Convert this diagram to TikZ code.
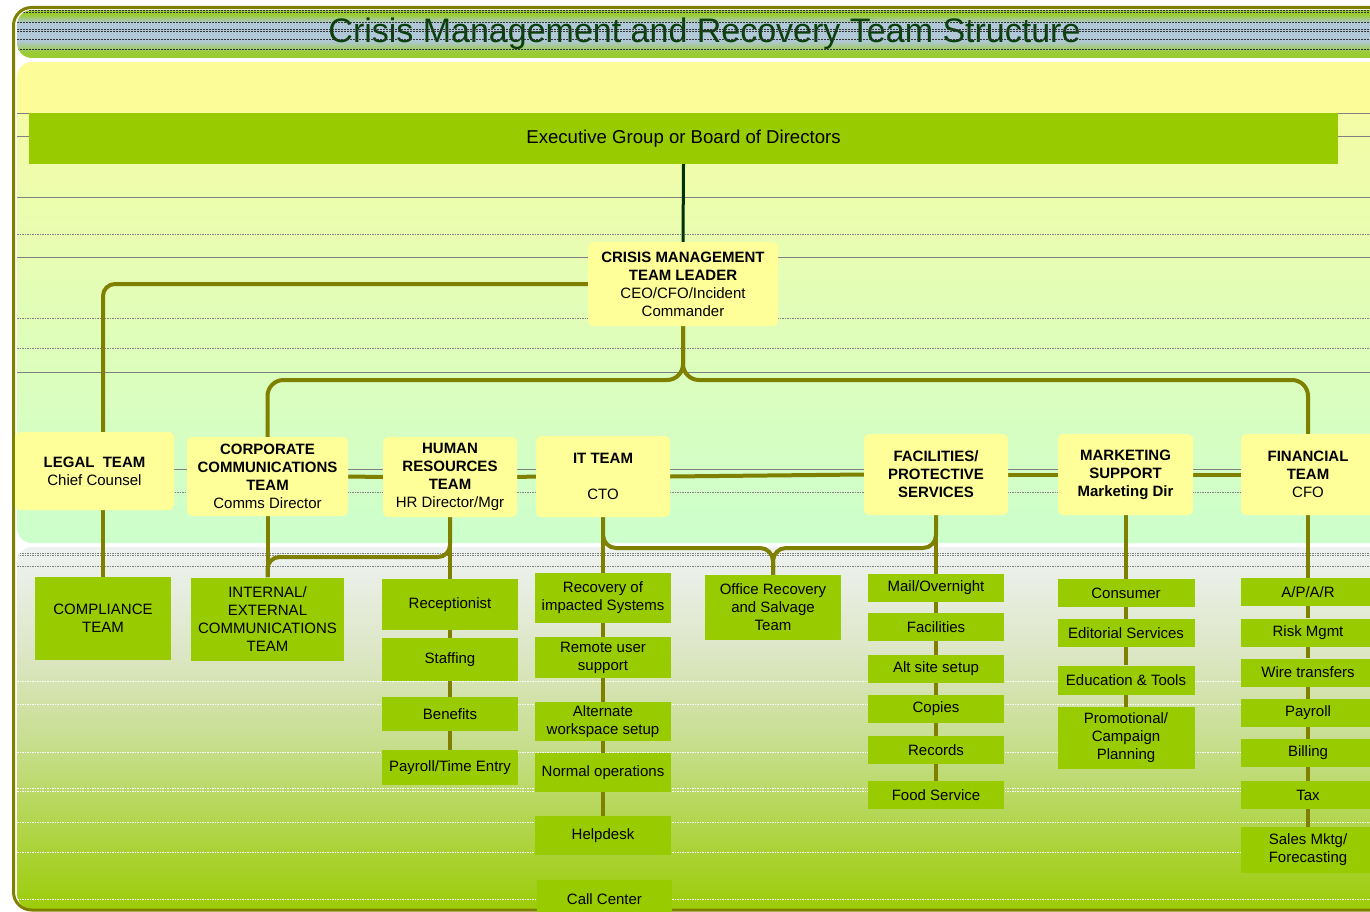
\documentclass[tikz,border=0pt]{standalone}
\usepackage{fontspec}
\setmainfont{Liberation Sans}
\usetikzlibrary{calc}
\definecolor{boxY}{HTML}{FFFF99}
\definecolor{boxG}{HTML}{99CC00}
\definecolor{olv}{HTML}{808000}
\definecolor{dkg}{HTML}{003300}
\definecolor{ttl}{HTML}{0A400A}
\definecolor{bandG}{HTML}{99CC33}
\definecolor{bandB}{HTML}{B0C8D8}
\definecolor{upY}{HTML}{FCFC99}
\definecolor{upT}{HTML}{F4FCA6}
\definecolor{upB}{HTML}{CCFFCC}
\definecolor{lwT}{HTML}{EEF2F2}
\definecolor{lwC}{HTML}{DCE6C4}
\definecolor{lwD}{HTML}{C6DE8C}
\definecolor{lwB}{HTML}{9CCC08}
\pgfdeclareverticalshading{lowershade}{100bp}{color(0bp)=(lwB); color(25bp)=(lwB); color(47.5bp)=(lwD); color(60bp)=(lwC); color(75bp)=(lwT); color(100bp)=(lwT)}
\pgfdeclareverticalshading{bandshade}{100bp}{color(0bp)=(bandG); color(25bp)=(bandG); color(31bp)=(bandG); color(43bp)=(bandB); color(62bp)=(bandB); color(70bp)=(bandG); color(75bp)=(bandG); color(100bp)=(bandG)}
\pgfdeclarelayer{panel}
\pgfdeclarelayer{links}
\pgfsetlayers{panel,links,main}
\tikzset{
  txt/.style={font=\fontsize{15}{18}\selectfont},
  ybox/.style={txt, fill=boxY, rounded corners=5pt, align=center, inner sep=0pt},
  gbox/.style={txt, fill=boxG, align=center, inner sep=0pt},
  conn/.style={draw=olv, line width=4pt},
  gridl/.style={draw=gray, line width=0.8pt},
  gridd/.style={draw=gray, line width=0.8pt, dash pattern=on 1.5pt off 1pt},
  wgrid/.style={draw=white, line width=0.8pt, dash pattern=on 1.5pt off 1pt},
  tline/.style={draw=black!80, line width=0.4pt, dash pattern=on 2pt off 1pt},
}
\begin{document}
\begin{tikzpicture}[x=1pt,y=-1pt]
\useasboundingbox (0,0) rectangle (1370,912);
\clip (0,0) rectangle (1370,912);
\begin{pgfonlayer}{panel}
  % title band
  \begin{scope}
    \clip[rounded corners=15pt] (17,10) rectangle (1400,58);
    \shade[shading=bandshade] (17,10) rectangle (1400,58);
    \node[font=\fontsize{34}{40}\selectfont, text=ttl, anchor=base, inner sep=0pt] (title) at (704.5,43) {Crisis Management and Recovery Team Structure};
    \foreach \yy in {10.5,12.5,22.3,29.3,31.5,39.3,49.3}
      \draw[tline] (17,\yy) -- (1400,\yy);
  \end{scope}
  % upper panel
  \begin{scope}
    \clip[rounded corners=15pt] (17,62) rectangle (1400,543);
    \shade[top color=upT, bottom color=upB] (17,113) rectangle (1400,543);
    \fill[upY] (17,62) rectangle (1400,113);
    \foreach \yy in {113,136,197,257,372,469}
      \draw[gridl] (17,\yy) -- (1400,\yy);
    \foreach \yy in {234,318,348,492}
      \draw[gridd] (17,\yy) -- (1400,\yy);
  \end{scope}
  % lower panel
  \begin{scope}
    \clip[rounded corners=15pt] (17,547) rectangle (1400,909);
    \shade[shading=lowershade] (17,547) rectangle (1400,909);
    \foreach \yy in {553,555,566}
      \draw[gridd] (17,\yy) -- (1400,\yy);
    \foreach \yy in {681,704,752,788,791,822,852,899}
      \draw[wgrid] (17,\yy) -- (1400,\yy);
  \end{scope}
  % frame
  \draw[olv, line width=3pt, rounded corners=18pt] (13.5,7.5) rectangle (1400,910);
\end{pgfonlayer}

% top
\node[gbox, minimum width=1309pt, minimum height=51pt, font=\fontsize{18.6}{22}\selectfont] (exec) at (683.5,138.5) {Executive Group or Board of Directors};
\node[ybox, minimum width=190pt, minimum height=84pt] (cmtl) at (683,284) {\textbf{CRISIS MANAGEMENT}\\\textbf{TEAM LEADER}\\CEO/CFO/Incident\\Commander};

% teams
\node[ybox, minimum width=159pt, minimum height=78pt] (legal) at (94.5,471) {\textbf{LEGAL\ \ TEAM}\\Chief Counsel};
\node[ybox, minimum width=161pt, minimum height=79pt] (corp) at (267.5,476.5) {\textbf{CORPORATE}\\\textbf{COMMUNICATIONS}\\\textbf{TEAM}\\Comms Director};
\node[ybox, minimum width=134pt, minimum height=80pt] (hr) at (450,477) {\textbf{HUMAN}\\\textbf{RESOURCES}\\\textbf{TEAM}\\HR Director/Mgr};
\node[ybox, minimum width=134pt, minimum height=81pt] (it) at (603,476.5) {\textbf{IT TEAM}\\[18pt]CTO};
\node[ybox, minimum width=144pt, minimum height=81pt] (fac) at (936,474.5) {\textbf{FACILITIES/}\\\textbf{PROTECTIVE}\\\textbf{SERVICES}};
\node[ybox, minimum width=135pt, minimum height=81pt] (mkt) at (1125.5,474.5) {\textbf{MARKETING}\\\textbf{SUPPORT}\\\textbf{Marketing Dir}};
\node[ybox, minimum width=134pt, minimum height=81pt] (fin) at (1308,474.5) {\textbf{FINANCIAL}\\\textbf{TEAM}\\CFO};

% legal / comms
\node[gbox, minimum width=136pt, minimum height=83pt] (compl) at (103,618.5) {COMPLIANCE\\TEAM};
\node[gbox, minimum width=153pt, minimum height=83pt] (intl) at (267.5,619) {INTERNAL/\\EXTERNAL\\COMMUNICATIONS\\TEAM};

% HR
\node[gbox, minimum width=136pt, minimum height=51pt] (recep) at (450,604.5) {Receptionist};
\node[gbox, minimum width=136pt, minimum height=43pt] (staff) at (450,659.5) {Staffing};
\node[gbox, minimum width=136pt, minimum height=34pt] (benef) at (450,714) {Benefits};
\node[gbox, minimum width=136pt, minimum height=35pt] (payr) at (450,767.5) {Payroll/Time Entry};

% IT
\node[gbox, minimum width=136pt, minimum height=50pt] (recov) at (603,598) {Recovery of\\impacted Systems};
\node[gbox, minimum width=136pt, minimum height=41pt] (remote) at (603,657.5) {Remote user\\support};
\node[gbox, minimum width=136pt, minimum height=39pt] (altw) at (603,721.5) {Alternate\\workspace setup};
\node[gbox, minimum width=136pt, minimum height=39pt] (normal) at (603,772.5) {Normal operations};
\node[gbox, minimum width=136pt, minimum height=39pt] (help) at (603,835.5) {Helpdesk};
\node[gbox, minimum width=135pt, minimum height=38pt] (call) at (604.5,899) {Call Center};
\node[gbox, minimum width=136pt, minimum height=65pt] (office) at (773,607.5) {Office Recovery\\and Salvage\\Team};

% facilities
\node[gbox, minimum width=136pt, minimum height=28pt] (mail) at (936,588) {Mail/Overnight};
\node[gbox, minimum width=136pt, minimum height=28pt] (facil) at (936,627) {Facilities};
\node[gbox, minimum width=136pt, minimum height=28pt] (alts) at (936,669) {Alt site setup};
\node[gbox, minimum width=136pt, minimum height=28pt] (copies) at (936,709) {Copies};
\node[gbox, minimum width=136pt, minimum height=28pt] (recs) at (936,750) {Records};
\node[gbox, minimum width=136pt, minimum height=28pt] (food) at (936,795) {Food Service};

% marketing
\node[gbox, minimum width=137pt, minimum height=28pt] (cons) at (1126,593) {Consumer};
\node[gbox, minimum width=137pt, minimum height=28pt] (edit) at (1126,633) {Editorial Services};
\node[gbox, minimum width=137pt, minimum height=29pt] (edu) at (1126,680) {Education \& Tools};
\node[gbox, minimum width=137pt, minimum height=62pt] (promo) at (1126,738) {Promotional/\\Campaign\\Planning};

% financial
\node[gbox, minimum width=134pt, minimum height=28pt] (apar) at (1308,592) {A/P/A/R};
\node[gbox, minimum width=134pt, minimum height=28pt] (risk) at (1308,632.5) {Risk Mgmt};
\node[gbox, minimum width=134pt, minimum height=28pt] (wire) at (1308,672.5) {Wire transfers};
\node[gbox, minimum width=134pt, minimum height=28pt] (pay) at (1308,713) {Payroll};
\node[gbox, minimum width=134pt, minimum height=28pt] (bill) at (1308,753) {Billing};
\node[gbox, minimum width=134pt, minimum height=28pt] (tax) at (1308,795) {Tax};
\node[gbox, minimum width=134pt, minimum height=46pt] (sales) at (1308,850) {Sales Mktg/\\Forecasting};

\coordinate (j1) at (683,380);
\coordinate (j2) at (0,557);
\coordinate (j3) at (0,548);

\begin{pgfonlayer}{links}
  \draw[dkg, line width=3pt] (exec.south) -- (cmtl.north);
  \draw[conn, rounded corners=12pt] (cmtl.west) -| (legal.north -| compl.north);
  \draw[conn] (legal.south -| compl.north) -- (compl.north);
  \draw[conn, rounded corners=16pt] (cmtl.south) |- (corp.north |- j1) -- (corp.north);
  \draw[conn, rounded corners=16pt] (cmtl.south) |- (fin.north |- j1) -- (fin.north);
  \draw[conn] (corp.east) -- (hr.west);
  \draw[conn] (hr.east) -- (it.west);
  \draw[conn] (it.east) -- (fac.west);
  \draw[conn] (fac.east) -- (mkt.west);
  \draw[conn] (mkt.east) -- (fin.west);
  \draw[conn] (corp.south) -- (intl.north);
  \draw[conn] (hr.south) -- (recep.north);
  \draw[conn, rounded corners=12pt] (hr.south) |- (intl.north |- j2) -- (intl.north);
  \draw[conn] (it.south) -- (recov.north);
  \draw[conn, rounded corners=13pt] (it.south) |- (office.north |- j3) -- (office.north);
  \draw[conn, rounded corners=13pt] (fac.south) |- (office.north |- j3) -- (office.north);
  \draw[conn] (fac.south) -- (mail.north);
  \draw[conn] (mkt.south) -- (mkt.south |- cons.north);
  \draw[conn] (fin.south) -- (apar.north);
  \foreach \a/\b in {recov/remote, remote/altw, altw/normal, normal/help,
                     recep/staff, staff/benef, benef/payr,
                     mail/facil, facil/alts, alts/copies, copies/recs, recs/food,
                     cons/edit, edit/edu, edu/promo,
                     apar/risk, risk/wire, wire/pay, pay/bill, bill/tax, tax/sales}
    \draw[conn] (\a.south) -- (\b.north);
\end{pgfonlayer}
\end{tikzpicture}
\end{document}
